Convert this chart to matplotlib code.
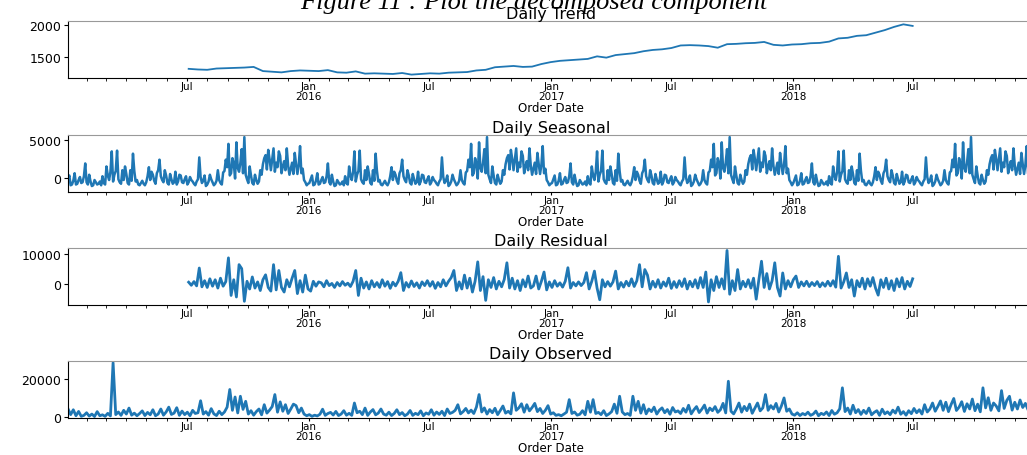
import numpy as np
import pandas as pd
import matplotlib.pyplot as plt

# values: observed/residual every 4 days, seasonal every 2 days, trend every 14 days
obs_start = '2015-01-03'
observed = [
    4300, 1200, 3800, 600, 2900, 300, 800, 2200, 400, 1500,
    200, 2800, 600, 1100, 300, 1900, 500, 28900, 1200, 2600,
    800, 3500, 1500, 4700, 900, 2000, 600, 1800, 3200, 700,
    2400, 1100, 3800, 600, 1500, 4200, 900, 2600, 5200, 1300,
    2000, 4900, 800, 3100, 1200, 2500, 600, 3500, 1800, 2200,
    8600, 1500, 2800, 900, 4400, 1600, 700, 3000, 1200, 2600,
    5200, 14600, 3500, 10600, 2100, 11000, 4000, 8300, 1500, 3300,
    900, 2800, 4200, 1100, 6500, 2000, 3600, 5500, 11900, 2500,
    8000, 3000, 6500, 1800, 4200, 6800, 6000, 2200, 4700, 1500,
    600, 1200, 300, 900, 500, 1400, 4100, 800, 1800, 2400,
    1000, 2900, 700, 1500, 3300, 900, 1900, 800, 7400, 2200,
    3000, 1200, 4700, 800, 2600, 3900, 1100, 2000, 4200, 1500,
    900, 2500, 700, 1800, 3800, 1200, 2300, 600, 1500, 3400,
    800, 1900, 1200, 3200, 600, 2100, 1400, 3800, 900, 2600,
    1300, 3000, 700, 4200, 1800, 2400, 3500, 6500, 1600, 2800,
    4500, 2100, 3600, 1800, 5200, 11900, 2600, 4800, 1500, 3900,
    2200, 4600, 1200, 3400, 5800, 2000, 3000, 1600, 12800, 3500,
    4800, 7000, 2500, 6500, 3200, 5000, 7200, 2800, 4500, 1800,
    3500, 6000, 1500, 2200, 800, 1200, 600, 1500, 2500, 9200,
    1800, 2600, 900, 1400, 3300, 1100, 8300, 2500, 9200, 1800,
    2400, 1200, 3300, 700, 1600, 2800, 6800, 1900, 11000, 2600,
    1200, 1800, 800, 11000, 3500, 8300, 2000, 6500, 1600, 4200,
    2800, 5200, 1500, 3600, 4800, 2200, 3900, 1400, 5000, 2600,
    3200, 1800, 4500, 2500, 6200, 1600, 3800, 5500, 2300, 4100,
    6300, 2000, 4700, 3300, 5500, 2400, 3800, 7200, 2100, 19000,
    3000, 1600, 4200, 7400, 2500, 5600, 3300, 6800, 1900, 4700,
    7400, 3200, 4800, 11900, 3500, 6000, 4200, 7200, 2600, 5800,
    10100, 3000, 4200, 1500, 900, 2200, 700, 1800, 1100, 2500,
    800, 1500, 3100, 600, 1900, 1200, 2600, 700, 3400, 1400,
    2200, 4300, 15500, 2800, 4700, 1500, 6200, 2200, 3900, 1300,
    3500, 1800, 4700, 1100, 2400, 3300, 800, 4100, 1600, 2700,
    1200, 3600, 2000, 5200, 1400, 2800, 900, 3300, 1700, 4500,
    2200, 3800, 1500, 6500, 2600, 4200, 7400, 3000, 5600, 8500,
    3500, 7800, 2800, 6600, 9800, 3400, 5200, 8100, 2900, 7000,
    4200, 9500, 3300, 6800, 2700, 15500, 4800, 10200, 3500, 7400,
    5800, 3200, 14000, 4500, 8800, 11000, 3600, 7800, 4200, 9000,
    5000, 7200, 3800, 6000, 4400,
]

# one year of the seasonal component (every 2 days from 3 Jan), repeats every year
seasonal_year = [
    -700, -200, 300, -1000, -900, -400, 600, -900, -800, -300,
    100, -700, -600, 200, 1900, -600, -900, 400, -500, -1100,
    -1000, -300, -600, -900, -800, -500, -1000, 200, -700, -900,
    1500, 300, -300, 800, 3500, -500, 400, 900, 3600, -200,
    -600, -800, 1000, -300, 1500, 500, -700, -900, 1000, -400,
    3200, 900, -500, -300, -900, -1000, -700, -400, -800, -1000,
    -600, 200, 1400, -300, 800, 400, -400, -800, 600, 1000,
    2400, 200, -300, -600, 1000, 300, -700, -900, 500, -200,
    -800, -600, 800, -900, -500, 400, 300, -600, -700, -200,
    200, -900, -600, 100, -300, -500, -800, -1000, -500, -200,
    2700, 100, -700, -400, 300, -1100, -900, -500, 400, -200,
    -600, -1000, -800, -400, 1000, -300, -700, -900, 700, 900,
    2400, 1400, 4500, 300, 600, 2600, 1900, -100, 4700, 1300,
    800, 2000, 3800, 600, 5400, 400, -200, -700, 1500, 300,
    -700, -900, 400, -300, -800, -500, 1000, 400, 1800, 2600,
    3000, 1100, 3700, 2500, 1000, 2400, 3900, 800, 2000, 1400,
    3500, 2900, 600, 1500, 2200, 1000, 3900, 1600, 400, 1200,
    2000, 500, 3300, 1800, 500, 1700, 4200, 600, 1200, -300,
    -600, -1000, -800,
]

resid_start = '2015-07-04'
residual = [
    700, -300, 900, -500, 5300, -800, 1200, -1000, 1800, -600,
    1500, -1200, 2000, -600, 900, 8600, -3600, 1500, -4100, 6400,
    5100, -5500, 1000, -1500, 2400, -1200, 800, -2000, 1500, 3100,
    -1000, -2200, 6400, -1800, 4500, -1000, -2500, 1500, -800, 2000,
    4500, -3000, 1200, -2500, 3000, -1500, -2200, 1000, -600, 800,
    500, -800, 1200, -400, 300, -1000, 600, -500, 900, -300,
    400, -700, 1000, 4500, -3600, 2000, -1200, 800, -1500, 1200,
    -800, 600, -1000, 1500, -600, 900, -1300, 700, -500, 1000,
    3800, -2000, 600, -900, 1100, -700, 500, -1200, 800, -400,
    1200, -600, 900, -1300, 600, -800, 1500, -500, 1000, 2200,
    4500, -2000, 800, -1500, 3000, -1200, 2000, -2500, 1000, 7300,
    -2000, 2500, -5200, 1500, -1000, 2200, -1500, 1000, -800, 1600,
    7000, -1200, 2000, -1500, 1200, -2000, 1500, -800, 2700, -1200,
    -500, 2700, -1500, 1000, 4000, -1800, 800, -1000, 1200, -600,
    500, -900, 1000, 5400, -1200, 600, -500, 800, -400, 600,
    3800, -1500, 1000, 4300, -1200, -5000, 1500, -800, 900, -600,
    800, 4300, -1500, 600, -900, 1000, -500, 1800, -700, 1200,
    6400, -800, 4800, 3000, -1500, 1000, -900, 1500, -1200, 800,
    -600, 2000, -1300, 900, -1000, 1200, -700, 1800, -1500, 1000,
    -800, 1500, -1200, 2200, -1000, 4000, -5700, 1500, -2000, 2500,
    -1000, 1800, -1500, 11000, -3200, 1200, -2000, 4800, -1500, 1000,
    -800, 1500, -1200, 2000, -4800, 1500, 7500, -1000, 3500, -1500,
    1200, 7000, -1000, -3800, 3700, -1500, 1200, -800, 1500, 2700,
    -1000, 800, -500, 1000, -700, 600, -400, 900, -800, 500,
    -600, 1000, -500, 1200, -900, 9100, -1200, 800, 3700, -1000,
    1500, -3800, 1200, -800, 2000, -1500, 1800, -600, 2200, -1200,
    -3500, 1500, -1000, 2000, -1500, 1200, -2000, 1800, -800, 2200,
    -1500, 1000, -700, 1800,
]

trend_start = '2015-07-04'
trend = [
    1315, 1305, 1300, 1320, 1325, 1330, 1335, 1345, 1280, 1270,
    1260, 1280, 1290, 1285, 1280, 1295, 1260, 1255, 1275, 1240,
    1245, 1240, 1235, 1250, 1225, 1235, 1245, 1240, 1255, 1260,
    1265, 1290, 1300, 1340, 1350, 1360, 1345, 1350, 1390, 1420,
    1440, 1450, 1460, 1470, 1510, 1490, 1530, 1545, 1560, 1590,
    1610, 1620, 1640, 1680, 1685, 1680, 1670, 1645, 1700, 1705,
    1715, 1720, 1735, 1690, 1680, 1695, 1700, 1715, 1720, 1740,
    1790, 1800, 1830, 1840, 1880, 1920, 1970, 2010, 1985,
]

tick_dates = ['2015-07-01', '2016-01-01', '2016-07-01', '2017-01-01',
              '2017-07-01', '2018-01-01', '2018-07-01']
tick_labels = ['Jul', 'Jan\n2016', 'Jul', 'Jan\n2017', 'Jul', 'Jan\n2018', 'Jul']

obs_dates = pd.date_range(obs_start, periods=len(observed), freq='4D')
resid_dates = pd.date_range(resid_start, periods=len(residual), freq='4D')
trend_dates = pd.date_range(trend_start, periods=len(trend), freq='14D')
seas_dates = pd.date_range(obs_start, '2018-12-30', freq='2D')

# seasonal value for each date = value of the same spot in the year
pos = np.minimum((seas_dates.dayofyear.values - 1) // 2, len(seasonal_year) - 1)
seasonal = np.array(seasonal_year)[pos]

panels = [
    ('Daily Trend', trend_dates, trend, (1172, 2062), [1500, 2000], 1.3),
    ('Daily Seasonal', seas_dates, seasonal, (-1892, 5676), [0, 5000], 1.8),
    ('Daily Residual', resid_dates, residual, (-6700, 11800), [0, 10000], 2.0),
    ('Daily Observed', obs_dates, observed, (-600, 29800), [0, 20000], 2.0),
]

fig = plt.figure(figsize=(10.27, 4.56), dpi=100)
tops = [22, 136, 249, 362]
for (title, dates, vals, ylim, yt, lw), top in zip(panels, tops):
    ax = fig.add_axes([68 / 1027, 1 - (top + 57) / 456, 966 / 1027, 57 / 456])
    ax.plot(dates, vals, color='#1f77b4', lw=lw)
    ax.set_xlim(pd.Timestamp('2015-01-03'), pd.Timestamp('2018-12-30'))
    ax.set_ylim(*ylim)
    ax.set_yticks(yt)
    ax.set_xticks(pd.to_datetime(tick_dates))
    ax.set_xticklabels(tick_labels, fontsize=7.5, linespacing=1.0)
    ax.set_xticks(pd.date_range('2015-02-01', '2018-12-01', freq='MS'), minor=True)
    ax.tick_params(axis='y', labelsize=9, length=3, pad=2)
    ax.tick_params(axis='x', which='major', length=2.5, pad=0)
    ax.tick_params(axis='x', which='minor', length=2)
    ax.set_title(title, fontsize=11.5, pad=2)
    ax.set_xlabel('Order Date', fontsize=8.5, labelpad=0)
    ax.spines['top'].set_color('#999999')

fig.text(0.52, 1 - 9 / 456, 'Figure 11 : Plot the decomposed component',
         family='Liberation Serif', style='italic', fontsize=19,
         ha='center', va='baseline')

plt.savefig('out.png')
